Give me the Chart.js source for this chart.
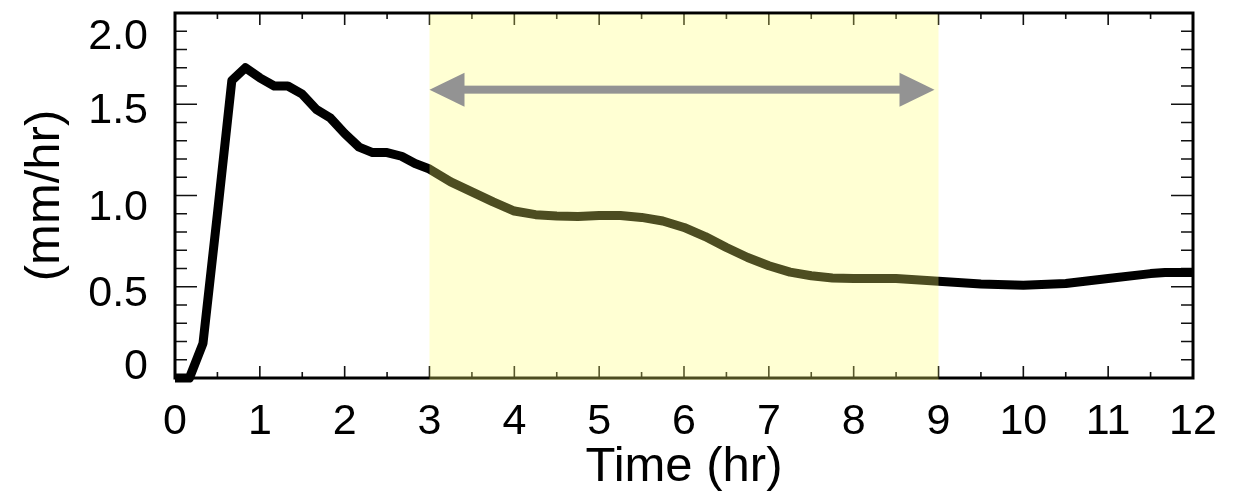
<!DOCTYPE html>
<html>
<head>
<meta charset="utf-8">
<title>Rate over time</title>
<script src="https://cdn.jsdelivr.net/npm/chart.js@4/dist/chart.umd.min.js"></script>
<style>
    html, body { margin: 0; padding: 0; background: #fff; }
    #wrap { width: 1236px; height: 497px; }
</style>
</head>
<body>
<div id="wrap"><canvas id="plot" width="1236" height="497"></canvas></div>
<script>
'use strict';

// values (hours, mm/hr)
const timeHours = [
    0, 0.17, 0.33, 0.5, 0.67, 0.83, 1.0, 1.17, 1.33, 1.5, 1.67, 1.83,
    2.0, 2.17, 2.33, 2.5, 2.67, 2.83, 3.0, 3.25, 3.5, 3.75, 4.0, 4.25,
    4.5, 4.75, 5.0, 5.25, 5.5, 5.75, 6.0, 6.25, 6.5, 6.75, 7.0, 7.25,
    7.5, 7.75, 8.0, 8.5, 9.0, 9.5, 10.0, 10.5, 11.0, 11.5, 11.67, 12.0
];
const rateValues = [
    0, 0, 0.19, 0.9, 1.63, 1.70, 1.645, 1.60, 1.60, 1.555, 1.47, 1.425,
    1.34, 1.265, 1.235, 1.235, 1.215, 1.175, 1.145, 1.075, 1.02, 0.965, 0.915, 0.895,
    0.888, 0.885, 0.89, 0.89, 0.88, 0.86, 0.825, 0.775, 0.715, 0.66, 0.615, 0.58,
    0.56, 0.548, 0.545, 0.545, 0.53, 0.515, 0.508, 0.518, 0.545, 0.572, 0.578, 0.578
];
const shadedHours = [3, 9];
const arrowHours = [3, 9];
const arrowLevel = 1.58;

const FONT = '"Liberation Sans", Arial, Helvetica, sans-serif';
// the y labels in the original sit a little off their ticks
const yLabelNudge = { '0': -11, '0.5': 7, '1': 13, '1.5': 7, '2': 24 };

(function () {
    const points = timeHours.map((t, i) => ({ x: t, y: rateValues[i] }));

    function drawTicks(ctx, scale, values, len, area, horizontal) {
        values.forEach(v => {
            const p = scale.getPixelForValue(v);
            ctx.beginPath();
            if (horizontal) {
                ctx.moveTo(p, area.bottom);
                ctx.lineTo(p, area.bottom - len);
                ctx.moveTo(p, area.top);
                ctx.lineTo(p, area.top + len);
            } else {
                ctx.moveTo(area.left, p);
                ctx.lineTo(area.left + len, p);
                ctx.moveTo(area.right, p);
                ctx.lineTo(area.right - len, p);
            }
            ctx.stroke();
        });
    }

    function range(from, to, step) {
        const out = [];
        for (let v = from; v <= to + 1e-9; v += step) out.push(Math.round(v * 100) / 100);
        return out;
    }

    const framePlugin = {
        id: 'frame',
        // frame, inward ticks and y labels, under the curve
        beforeDatasetsDraw(chart) {
            const { ctx, chartArea: a, scales: { x, y } } = chart;
            ctx.save();
            ctx.strokeStyle = '#111';
            ctx.lineWidth = 1.6;
            const xMajor = range(1, 11, 1);
            const xMinor = range(0.5, 11.5, 1);
            const yMajor = range(0.5, 1.5, 0.5);
            const yMinor = range(0.1, 1.9, 0.1).filter(v => Math.abs(v * 2 - Math.round(v * 2)) > 1e-6);
            drawTicks(ctx, x, xMajor, 12, a, true);
            drawTicks(ctx, x, xMinor, 6, a, true);
            drawTicks(ctx, y, yMajor, 22, a, false);
            drawTicks(ctx, y, yMinor, 12, a, false);
            ctx.lineWidth = 3;
            ctx.strokeStyle = '#000';
            ctx.strokeRect(a.left, a.top, a.right - a.left, a.bottom - a.top);

            ctx.fillStyle = '#000';
            ctx.font = `43px ${FONT}`;
            ctx.textAlign = 'right';
            ctx.textBaseline = 'middle';
            y.ticks.forEach(t => {
                const label = t.value === 0 ? '0' : t.value.toFixed(1);
                const nudge = yLabelNudge[String(t.value)] || 0;
                ctx.fillText(label, a.left - 27, y.getPixelForValue(t.value) + nudge);
            });
            ctx.restore();
        },
        afterDatasetsDraw(chart) {
            const { ctx, chartArea: a, scales: { x, y } } = chart;
            ctx.save();
            // translucent band over the curve
            const x0 = x.getPixelForValue(shadedHours[0]);
            const x1 = x.getPixelForValue(shadedHours[1]);
            ctx.fillStyle = 'rgba(255, 255, 110, 0.3)';
            ctx.fillRect(x0, a.top + 1.5, x1 - x0, a.bottom - a.top + 0.5);

            // double-headed arrow
            const ax0 = x.getPixelForValue(arrowHours[0]);
            const ax1 = x.getPixelForValue(arrowHours[1]) - 4;
            const ay = y.getPixelForValue(arrowLevel);
            const head = 35, half = 17;
            ctx.fillStyle = '#939393';
            ctx.fillRect(ax0 + head - 1, ay - 4, ax1 - ax0 - 2 * head + 2, 8);
            ctx.beginPath();
            ctx.moveTo(ax0, ay);
            ctx.lineTo(ax0 + head, ay - half);
            ctx.lineTo(ax0 + head, ay + half);
            ctx.closePath();
            ctx.fill();
            ctx.beginPath();
            ctx.moveTo(ax1, ay);
            ctx.lineTo(ax1 - head, ay - half);
            ctx.lineTo(ax1 - head, ay + half);
            ctx.closePath();
            ctx.fill();
            ctx.restore();
        }
    };

    new Chart(document.getElementById('plot'), {
        type: 'line',
        data: {
            datasets: [{
                data: points,
                borderColor: '#000',
                borderWidth: 9,
                pointRadius: 0,
                tension: 0,
                borderJoinStyle: 'round',
                clip: 6,
                fill: false
            }]
        },
        options: {
            responsive: false,
            animation: false,
            events: [],
            layout: { padding: { top: 13, right: 43, left: 0, bottom: 0 } },
            plugins: { legend: { display: false }, tooltip: { enabled: false } },
            scales: {
                x: {
                    type: 'linear',
                    min: 0,
                    max: 12,
                    grid: { display: false, drawTicks: false },
                    border: { display: false },
                    ticks: {
                        stepSize: 1,
                        padding: 18,
                        color: '#000',
                        maxRotation: 0,
                        font: { family: FONT, size: 43 }
                    },
                    title: {
                        display: true,
                        text: 'Time (hr)',
                        color: '#000',
                        padding: { top: 0, bottom: 0 },
                        font: { family: FONT, size: 49 }
                    },
                    afterFit(scale) {
                        scale.height = 119;
                        scale.paddingLeft = 0;
                        scale.paddingRight = 0;
                    }
                },
                y: {
                    min: 0,
                    max: 2,
                    grid: { display: false, drawTicks: false },
                    border: { display: false },
                    ticks: {
                        stepSize: 0.5,
                        display: false
                    },
                    title: {
                        display: true,
                        text: '(mm/hr)',
                        color: '#000',
                        padding: { top: 16, bottom: 0 },
                        font: { family: FONT, size: 49 }
                    },
                    afterFit(scale) {
                        scale.width = 175;
                        scale.paddingTop = 0;
                        scale.paddingBottom = 0;
                    }
                }
            }
        },
        plugins: [framePlugin]
    });
})();
</script>
</body>
</html>
